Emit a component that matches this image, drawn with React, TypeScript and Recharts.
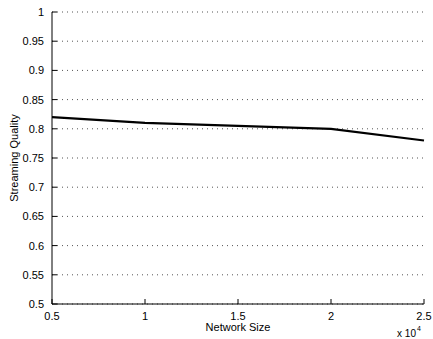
import { LineChart, Line, XAxis, YAxis, CartesianGrid } from "recharts";

const networkSizes = [5000, 10000, 15000, 20000, 25000];
const streamingQuality = [0.82, 0.81, 0.805, 0.8, 0.78];
const xTicks = [5000, 10000, 15000, 20000, 25000];
const yTicks = [0.5, 0.55, 0.6, 0.65, 0.7, 0.75, 0.8, 0.85, 0.9, 0.95, 1];

const FONT = "'Liberation Sans', Arial, Helvetica, sans-serif";

const data = networkSizes.map((n, i) => ({ size: n, quality: streamingQuality[i] }));

export default function App() {
  return (
    <div style={{ position: "absolute", left: 0, top: 0, background: "#fff" }}>
      <LineChart
        width={433}
        height={339}
        data={data}
        margin={{ top: 12, right: 9, left: 0, bottom: 0 }}
      >
        <CartesianGrid
          vertical={false}
          stroke="#555"
          strokeDasharray="1 4"
        />
        <XAxis
          dataKey="size"
          type="number"
          domain={[5000, 25000]}
          ticks={xTicks}
          tickFormatter={(v: number) => String(v / 10000)}
          height={35}
          stroke="#000"
          tickSize={-5}
          tickMargin={13}
          tick={{ fill: "#000", fontSize: 11, fontFamily: FONT }}
          label={{
            content: ({ viewBox }: any) => (
              <g fontFamily={FONT} fill="#000">
                <text x={viewBox.x + viewBox.width / 2} y={viewBox.y + 27} textAnchor="middle" fontSize={11}>
                  Network Size
                </text>
                <text x={viewBox.x + viewBox.width - 8} y={viewBox.y + 33} textAnchor="end" fontSize={10}>
                  x 10
                </text>
                <text x={viewBox.x + viewBox.width - 7} y={viewBox.y + 27} textAnchor="start" fontSize={7}>
                  4
                </text>
              </g>
            ),
          }}
        />
        <YAxis
          type="number"
          domain={[0.5, 1]}
          ticks={yTicks}
          tickFormatter={(v: number) => String(Number(v.toFixed(2)))}
          width={52}
          stroke="#000"
          tickSize={-5}
          tickMargin={13}
          tick={{ fill: "#000", fontSize: 11, fontFamily: FONT }}
          label={{
            content: ({ viewBox }: any) => {
              const x = viewBox.x + 15;
              const y = viewBox.y + viewBox.height / 2;
              return (
                <text
                  x={x}
                  y={y}
                  transform={`rotate(-90 ${x} ${y})`}
                  textAnchor="middle"
                  dominantBaseline="middle"
                  fontSize={11}
                  fontFamily={FONT}
                  fill="#000"
                >
                  Streaming Quality
                </text>
              );
            },
          }}
        />
        <Line
          dataKey="quality"
          type="linear"
          stroke="#000"
          strokeWidth={2.2}
          dot={false}
          isAnimationActive={false}
        />
      </LineChart>
    </div>
  );
}
